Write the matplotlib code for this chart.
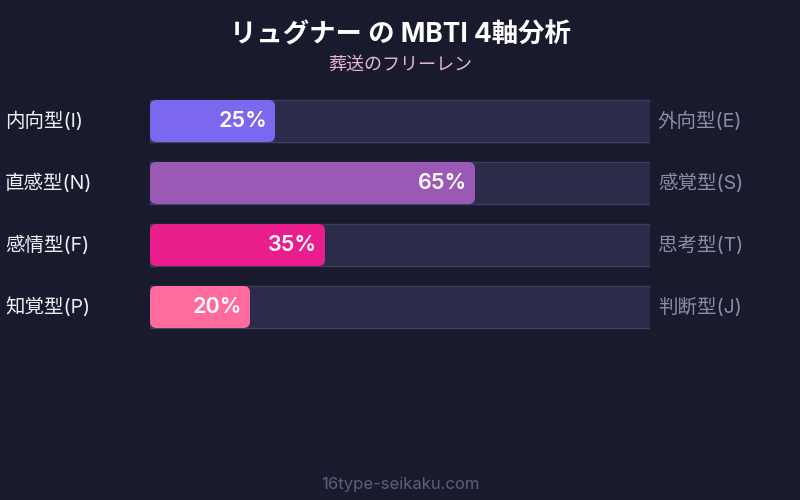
import matplotlib
matplotlib.use("Agg")
import matplotlib.pyplot as plt
from matplotlib.patches import FancyBboxPatch, Rectangle

plt.rcParams['font.family'] = ['Inter', 'Noto Sans CJK JP', 'DejaVu Sans']

# データ
left_labels = ['内向型(I)', '直感型(N)', '感情型(F)', '知覚型(P)']
right_labels = ['外向型(E)', '感覚型(S)', '思考型(T)', '判断型(J)']
values = [25, 65, 35, 20]
colors = ['#7b68ee', '#9b59b6', '#e91e8c', '#ff6b9d']

BG = '#1a1a2e'
TRACK = '#2d2b4a'
TRACK_EDGE = '#403e5e'

fig = plt.figure(figsize=(8, 5), dpi=100, facecolor=BG)

# バー領域: x 150-650px, y 90-338px
ax = fig.add_axes([150 / 800, (500 - 338) / 500, 500 / 800, 248 / 500])
ax.set_facecolor(BG)
ax.set_xlim(0, 100)
ax.set_ylim(len(values) - 0.5, -0.5)
ax.axis('off')

bar_h = 42 / 62
x_px = 5.0     # 1 x単位 = 5px
y_px = 62.0    # 1 y単位 = 62px

for i, (val, col) in enumerate(zip(values, colors)):
    ax.add_patch(Rectangle((0, i - bar_h / 2), 100, bar_h,
                           facecolor=TRACK, edgecolor=TRACK_EDGE, linewidth=1))
    ax.add_patch(FancyBboxPatch((0, i - bar_h / 2), val, bar_h,
                                boxstyle='round,pad=0,rounding_size=1.3',
                                mutation_aspect=x_px / y_px,
                                facecolor=col, edgecolor='none'))
    ax.text(val - 1.6, i, f'{val}%', ha='right', va='center',
            color='white', fontsize=15.5, fontweight='semibold')
    ax.text(-29, i, left_labels[i], ha='left', va='center',
            color='#f0f0f5', fontsize=14, clip_on=False)
    ax.text(101.6, i, right_labels[i], ha='left', va='center',
            color='#8c8ca3', fontsize=14, clip_on=False)

fig.text(0.5, 1 - 35 / 500, 'リュグナー の MBTI 4軸分析', ha='center', va='center',
         color='white', fontsize=19, fontweight='bold')
fig.text(0.5, 1 - 65 / 500, '葬送のフリーレン', ha='center', va='center',
         color='#e4b5d8', fontsize=13)
fig.text(0.5, 1 - 485 / 500, '16type-seikaku.com', ha='center', va='center',
         color='#5c5f78', fontsize=12)

fig.savefig('out.png', dpi=100, facecolor=BG)
